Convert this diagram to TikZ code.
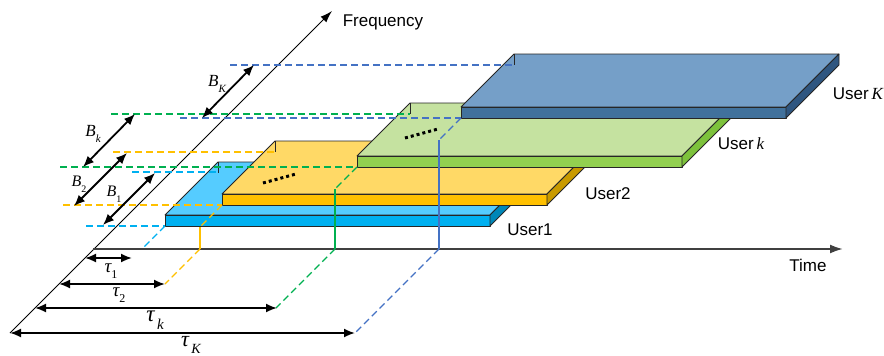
\documentclass[tikz,border=0pt]{standalone}
\usepackage{fontspec}
\setmainfont{Liberation Sans}
\newfontfamily\tnr{Liberation Serif}
\usetikzlibrary{arrows.meta}

\definecolor{cyantop}{HTML}{55CCFF}
\definecolor{cyanfront}{HTML}{00B0F0}
\definecolor{cyanside}{HTML}{0087B8}
\definecolor{goldtop}{HTML}{FFD966}
\definecolor{goldfront}{HTML}{FFC000}
\definecolor{goldside}{HTML}{C89A00}
\definecolor{greentop}{HTML}{C5E2A0}
\definecolor{greenfront}{HTML}{92D050}
\definecolor{greenside}{HTML}{7DC23C}
\definecolor{bluetop}{HTML}{759FC8}
\definecolor{bluefront}{HTML}{41719C}
\definecolor{blueside}{HTML}{2F5680}
\definecolor{linecyan}{HTML}{00B0F0}
\definecolor{lineyellow}{HTML}{FFC000}
\definecolor{linegreen}{HTML}{00B050}
\definecolor{lineblue}{HTML}{4472C4}

\newcommand{\slab}[3]{%
  \filldraw[plate, fill=#3top] (#1,#2) -- ++(325,0) -- ++(53,-53) -- ++(-325,0) -- cycle;
  \filldraw[plate, fill=#3front] (#1,#2) -- ++(325,0) -- ++(0,11) -- ++(-325,0) -- cycle;
  \filldraw[plate, fill=#3side] (#1+325,#2) -- ++(53,-53) -- ++(0,11) -- ++(-53,53) -- cycle;
  \draw[plate] (#1+53,#2-53) -- ++(0,11);
}
\newcommand{\lbl}[4]{{\tnr\fontsize{#3}{#3}\selectfont\itshape #1\raisebox{-0.35em}{\fontsize{#4}{#4}\selectfont #2}}}

\begin{document}
\begin{tikzpicture}[x=1pt, y=-1pt,
  plate/.style={draw=black!85, line width=0.8pt, line join=round},
  proj/.style={line width=1.2pt, dash pattern=on 7pt off 4pt},
  dim/.style={line width=1.8pt, {Latex[length=11pt,width=9pt]}-{Latex[length=11pt,width=9pt]}},
  txt/.style={inner sep=0pt, font=\fontsize{17}{20}\selectfont},
  sym/.style={inner sep=0pt},
  dots/.style={line width=3pt, dash pattern=on 3pt off 3pt}]
  \useasboundingbox (0,0) rectangle (884,356);

  \coordinate (O) at (10,333);
  \coordinate (F) at (332,11);
  \coordinate (T0) at (93,249);
  \coordinate (T) at (843,249);
  \draw[line width=1pt, -{Latex[length=12pt,width=8pt]}] (O) -- (F);
  \draw[line width=2pt, black!75, -{Latex[length=13pt,width=9pt]}] (T0) -- (T);

  \slab{165}{215}{cyan}
  \slab{222}{194}{gold}
  \slab{357}{156}{green}
  \slab{461}{107}{blue}

  \draw[dots] (263,183) -- (296,174);
  \draw[dots] (405,138) -- (438,129);

  \draw[proj, linecyan] (132,172) -- (218,172);
  \draw[proj, linecyan] (86,226) -- (165,226);
  \draw[proj, lineyellow] (113,152) -- (275,152);
  \draw[proj, lineyellow] (63,205) -- (222,205);
  \draw[proj, linegreen] (111,114) -- (410,114);
  \draw[proj, linegreen] (60,167) -- (357,167);
  \draw[proj, lineblue] (230,65) -- (514,65);
  \draw[proj, lineblue] (180,118) -- (461,118);

  \draw[proj, linecyan] (165,226) -- (143,248);
  \draw[proj, lineyellow] (222,205) -- (200,227);
  \draw[line width=1.2pt, lineyellow] (200,227) -- (200,249);
  \draw[proj, lineyellow] (200,249) -- (165,284);
  \draw[proj, linegreen] (357,167) -- (335,189);
  \draw[line width=1.2pt, linegreen] (335,189) -- (335,249);
  \draw[proj, linegreen] (335,249) -- (276,308);
  \draw[proj, lineblue] (461,118) -- (439,140);
  \draw[line width=1.2pt, lineblue] (439,140) -- (439,249);
  \draw[proj, lineblue] (439,249) -- (355,333);

  \coordinate (b1a) at (103,225);
  \coordinate (b1b) at (155,173);
  \coordinate (b2a) at (74,206);
  \coordinate (b2b) at (127,153);
  \coordinate (bka) at (83,167);
  \coordinate (bkb) at (135,114);
  \coordinate (bKa) at (202,118);
  \coordinate (bKb) at (254,65);
  \draw[dim] (b1a) -- (b1b);
  \draw[dim] (b2a) -- (b2b);
  \draw[dim] (bka) -- (bkb);
  \draw[dim] (bKa) -- (bKb);

  \coordinate (t1a) at (85,258);
  \coordinate (t1b) at (132,258);
  \coordinate (t2a) at (59,284);
  \coordinate (t2b) at (165,284);
  \coordinate (tka) at (35,308);
  \coordinate (tkb) at (277,308);
  \coordinate (tKa) at (10,333);
  \coordinate (tKb) at (355,333);
  \draw[dim] (t1a) -- (t1b);
  \draw[dim] (t2a) -- (t2b);
  \draw[dim] (tka) -- (tkb);
  \draw[dim] (tKa) -- (tKb);

  \node[sym] (b1lbl) at (114,194) {\lbl{B}{\upshape 1}{16}{10}};
  \node[sym] (b2lbl) at (79,184) {\lbl{B}{\upshape 2}{16}{10}};
  \node[sym] (bklbl) at (93,134) {\lbl{B}{k}{17}{11}};
  \node[sym] (bKlbl) at (217,84) {\lbl{B}{K}{17}{11}};
  \node[sym] (t1lbl) at (111,271) {\lbl{τ}{\upshape 1}{19}{12}};
  \node[sym] (t2lbl) at (119,295) {\lbl{τ}{\upshape 2}{19}{12}};
  \node[sym] (tklbl) at (155,320) {\lbl{τ}{\,k}{23}{15}};
  \node[sym] (tKlbl) at (191,345) {\lbl{τ}{\,K}{22}{14}};

  \node[txt] (freqlbl) at (383,22) {Frequency};
  \node[txt] (timelbl) at (808,265) {Time};
  \node[txt] (u1lbl) at (530,230) {User1};
  \node[txt] (u2lbl) at (608,194) {User2};
  \node[txt] (uklbl) at (741,144) {User\,{\tnr\itshape k}};
  \node[txt] (uKlbl) at (858,94) {User\,{\tnr\itshape K}};
\end{tikzpicture}
\end{document}
